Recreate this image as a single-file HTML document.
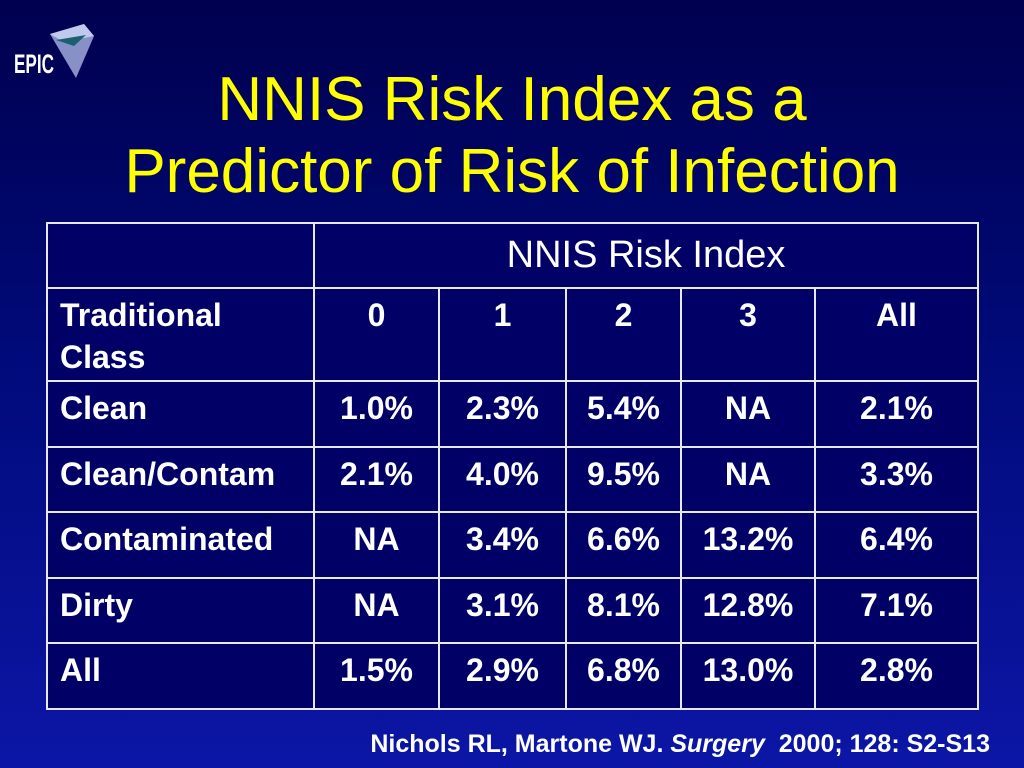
<!DOCTYPE html>
<html><head><meta charset="utf-8"><style>
html,body{margin:0;padding:0}
body{width:1024px;height:768px;position:relative;overflow:hidden;background:linear-gradient(#00004e 0%,#000a78 45%,#0c16a6 100%);font-family:"Liberation Sans",sans-serif}
#title{position:absolute;left:0;width:1024px;top:64px;text-align:center;color:#ffff00;font-size:62px;line-height:72px;margin:0;font-weight:normal}
#tbl{position:absolute;left:46px;top:222px;border-collapse:collapse;background:#000066;color:#fff}
#tbl td{border:2px solid #e8e8f0;padding:0;vertical-align:top;font-weight:bold;font-size:32px;text-align:center;box-sizing:border-box}
#tbl td.l{text-align:left;padding-left:12px}
#tbl td div{padding-top:5px;line-height:42px;white-space:nowrap}
#tbl td.hdr{font-weight:normal;font-size:38px}
#tbl td.hdr div{padding-top:10px}
#cite{position:absolute;right:34px;top:730px;color:#fff;font-weight:bold;font-size:25px}
#logo{position:absolute;left:0;top:0}
</style></head><body>
<svg id="logo" width="100" height="90" viewBox="0 0 100 90">
<polygon points="50,34 84,24 94,36 76,78" fill="#8890c8"/>
<polygon points="50,34 84,24 94,36 64,42" fill="#c0c8ee"/>
<polygon points="56,40 86,35 74,46" fill="#1a6070"/>
<text x="14" y="73" fill="#fff" font-family="Liberation Sans,sans-serif" font-weight="bold" font-size="27" textLength="40" lengthAdjust="spacingAndGlyphs">EPIC</text>
</svg>
<h1 id="title">NNIS Risk Index as a<br>Predictor of Risk of Infection</h1>
<table id="tbl">
<colgroup><col style="width:267px"><col style="width:125px"><col style="width:127px"><col style="width:115px"><col style="width:134px"><col style="width:163px"></colgroup>
<tr style="height:65px"><td></td><td colspan="5" class="hdr"><div>NNIS Risk Index</div></td></tr>
<tr style="height:93px"><td class="l"><div>Traditional<br>Class</div></td><td><div>0</div></td><td><div>1</div></td><td><div>2</div></td><td><div>3</div></td><td><div>All</div></td></tr>
<tr style="height:66px"><td class="l"><div>Clean</div></td><td><div>1.0%</div></td><td><div>2.3%</div></td><td><div>5.4%</div></td><td><div>NA</div></td><td><div>2.1%</div></td></tr>
<tr style="height:65px"><td class="l"><div>Clean/Contam</div></td><td><div>2.1%</div></td><td><div>4.0%</div></td><td><div>9.5%</div></td><td><div>NA</div></td><td><div>3.3%</div></td></tr>
<tr style="height:66px"><td class="l"><div>Contaminated</div></td><td><div>NA</div></td><td><div>3.4%</div></td><td><div>6.6%</div></td><td><div>13.2%</div></td><td><div>6.4%</div></td></tr>
<tr style="height:65px"><td class="l"><div>Dirty</div></td><td><div>NA</div></td><td><div>3.1%</div></td><td><div>8.1%</div></td><td><div>12.8%</div></td><td><div>7.1%</div></td></tr>
<tr style="height:66px"><td class="l"><div>All</div></td><td><div>1.5%</div></td><td><div>2.9%</div></td><td><div>6.8%</div></td><td><div>13.0%</div></td><td><div>2.8%</div></td></tr>
</table>
<div id="cite">Nichols RL, Martone WJ. <i>Surgery</i>&nbsp; 2000; 128: S2-S13</div>
</body></html>
